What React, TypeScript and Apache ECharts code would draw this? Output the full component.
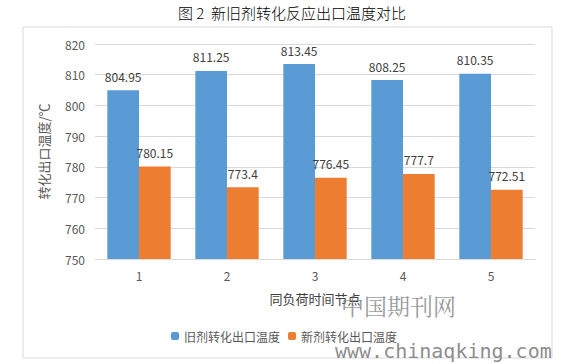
import React, { useEffect, useRef } from "react";
import * as echarts from "echarts";

const categories = ["1", "2", "3", "4", "5"];
const oldValues = [804.95, 811.25, 813.45, 808.25, 810.35];
const newValues = [780.15, 773.4, 776.45, 777.7, 772.51];
const labelTexts = [
  ["804.95", "811.25", "813.45", "808.25", "810.35"],
  ["780.15", "773.4", "776.45", "777.7", "772.51"],
];
const seriesNames = ["旧剂转化出口温度", "新剂转化出口温度"];

export default function App() {
  const ref = useRef<HTMLDivElement>(null);
  useEffect(() => {
    if (!ref.current) return;
    const chart = echarts.init(ref.current, undefined, { renderer: "svg" });
    const font = "'Noto Sans CJK SC', 'Noto Sans', sans-serif";
    const mkLabel = (idx: number) => ({
      show: true,
      position: "top" as const,
      distance: 8,
      color: "#404040",
      fontSize: 12,
      fontFamily: font,
      formatter: (p: any) => labelTexts[idx][p.dataIndex],
    });
    chart.setOption({
      animation: false,
      backgroundColor: "#ffffff",
      textStyle: { fontFamily: font },
      title: {
        text: "图 2  新旧剂转化反应出口温度对比",
        left: 173,
        top: 0,
        textStyle: { fontSize: 15, fontWeight: 300, color: "#000", fontFamily: font },
      },
      grid: { left: 95, right: 33, top: 44, bottom: 105 },
      legend: {
        bottom: 17,
        left: "center",
        itemWidth: 8,
        itemHeight: 8,
        itemGap: 8,
        textStyle: { fontSize: 12, color: "#595959", fontFamily: font },
        data: seriesNames,
      },
      xAxis: {
        type: "category",
        data: categories,
        name: "同负荷时间节点",
        nameLocation: "middle",
        nameGap: 33,
        nameTextStyle: { fontSize: 13, color: "#404040", fontFamily: font },
        axisLine: { lineStyle: { color: "#d9d9d9" } },
        axisTick: { show: false },
        axisLabel: { color: "#595959", fontSize: 12, margin: 10 },
      },
      yAxis: {
        type: "value",
        min: 750,
        max: 820,
        interval: 10,
        name: "转化出口温度/℃",
        nameLocation: "middle",
        nameGap: 45,
        nameTextStyle: { fontSize: 13, color: "#595959", fontFamily: font },
        axisLine: { show: false },
        axisTick: { show: false },
        axisLabel: { color: "#595959", fontSize: 12, margin: 10 },
        splitLine: { lineStyle: { color: "#d9d9d9" } },
      },
      series: [
        {
          name: seriesNames[0],
          type: "bar",
          data: oldValues,
          barGap: "0%",
          barCategoryGap: "28%",
          itemStyle: { color: "#5B9BD5" },
          label: mkLabel(0),
        },
        {
          name: seriesNames[1],
          type: "bar",
          data: newValues,
          barGap: "0%",
          barCategoryGap: "28%",
          itemStyle: { color: "#ED7D31" },
          label: mkLabel(1),
        },
      ],
      graphic: [
        {
          type: "rect",
          shape: { x: 23, y: 27, width: 529, height: 331 },
          style: { fill: "none", stroke: "#d9d9d9", lineWidth: 1 },
          silent: true,
          z: -1,
        },
        {
          type: "text",
          x: 341,
          y: 294,
          style: {
            text: "中国期刊网",
            fontSize: 23,
            fontFamily: "'Noto Serif CJK SC', 'Noto Sans CJK SC', serif",
            fill: "rgba(120,120,120,0.75)",
          },
          silent: true,
          z: 10,
        },
        {
          type: "text",
          x: 335,
          y: 341,
          style: {
            text: "www.chinaqking.com",
            fontSize: 20,
            fontFamily: "'DejaVu Sans Mono', 'Liberation Mono', monospace",
            fill: "rgba(110,110,110,0.8)",
          },
          silent: true,
          z: 10,
        },
      ],
    });
    return () => chart.dispose();
  }, []);
  return <div ref={ref} style={{ width: 568, height: 364, position: "absolute", left: 0, top: 0 }} />;
}
